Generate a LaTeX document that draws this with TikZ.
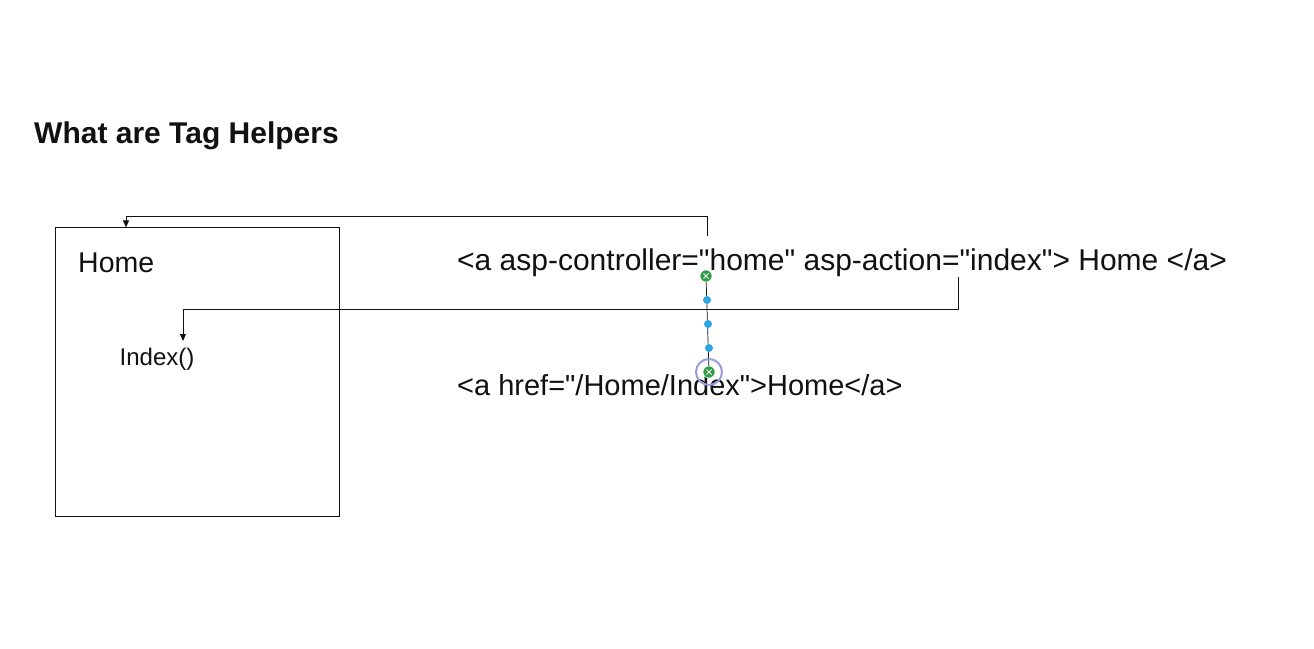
\documentclass[tikz,border=0pt]{standalone}
\usepackage{fontspec}
\setmainfont{Liberation Sans}[Ligatures=TeXOff]
\usetikzlibrary{arrows.meta}
\definecolor{ink}{HTML}{111111}
\definecolor{hblue}{HTML}{2FA4E7}
\definecolor{hgreen}{HTML}{2E9E45}
\definecolor{hring}{HTML}{9A9CE0}
\tikzset{
  txt/.style={inner sep=0pt, anchor=base west, text=ink},
  conn/.style={draw=ink, line width=0.9pt},
  arr/.style={conn, -{Triangle[length=7pt,width=6pt]}},
  hdot/.style={circle, fill=hblue, inner sep=0pt, minimum size=8pt},
  hend/.style={circle, fill=hgreen, draw=white, line width=0.5pt, inner sep=0pt, minimum size=12pt},
}
\begin{document}
\begin{tikzpicture}[x=1pt,y=-1pt]
\useasboundingbox[fill=white] (0,0) rectangle (1314,648);
% title
\node[txt, font=\fontsize{30}{34}\selectfont\bfseries] (title) at (34,143) {What are Tag Helpers};
% box
\node[draw=ink, line width=0.9pt, minimum width=283.8pt, minimum height=288.7pt, anchor=north west, inner sep=0pt, outer sep=0pt] (box) at (55.6,227.4) {};
\node[txt, font=\fontsize{28.5}{32}\selectfont] (home) at (78,272) {Home};
\node[txt, font=\fontsize{24}{28}\selectfont] (idx) at (119.5,365.5) {Index()};
% texts
\node[txt, font=\fontsize{30}{34}\selectfont] (t1) at (457,270) {<a asp-controller="home" asp-action="index"> Home </a>};
\node[txt, font=\fontsize{29}{33}\selectfont] (t2) at (457,395) {<a href="/Home/Index">Home</a>};
% connectors
\coordinate (c1s) at (707,236);
\coordinate (c1a) at (707,216);
\coordinate (c1b) at (126,216);
\draw[arr] (c1s) -- (c1a) -- (c1b) -- (c1b |- box.north);
\coordinate (c2s) at (958,277);
\coordinate (c2a) at (958,309);
\coordinate (c2b) at (183,309);
\coordinate (c2e) at (183,341);
\draw[arr] (c2s) -- (c2a) -- (c2b) -- (c2e);
% selected connector with handles
\coordinate (s1) at (706,276);
\coordinate (s2) at (709,372);
\draw[ink, line width=0.7pt] (s1) -- (s2);
\node[hdot] (h1) at (707,300) {};
\node[hdot] (h2) at (708,324) {};
\node[hdot] (h3) at (709,348) {};
\draw[hring, line width=2pt] (s2) circle (13pt);
\node[hend] (e1) at (s1) {};
\node[hend] (e2) at (s2) {};
\foreach \e in {e1,e2}{
  \draw[white, line width=0.9pt] ([shift={(-2.5,-2.5)}]\e.center) -- ([shift={(2.5,2.5)}]\e.center);
  \draw[white, line width=0.9pt] ([shift={(-2.5,2.5)}]\e.center) -- ([shift={(2.5,-2.5)}]\e.center);
}
\end{tikzpicture}
\end{document}
